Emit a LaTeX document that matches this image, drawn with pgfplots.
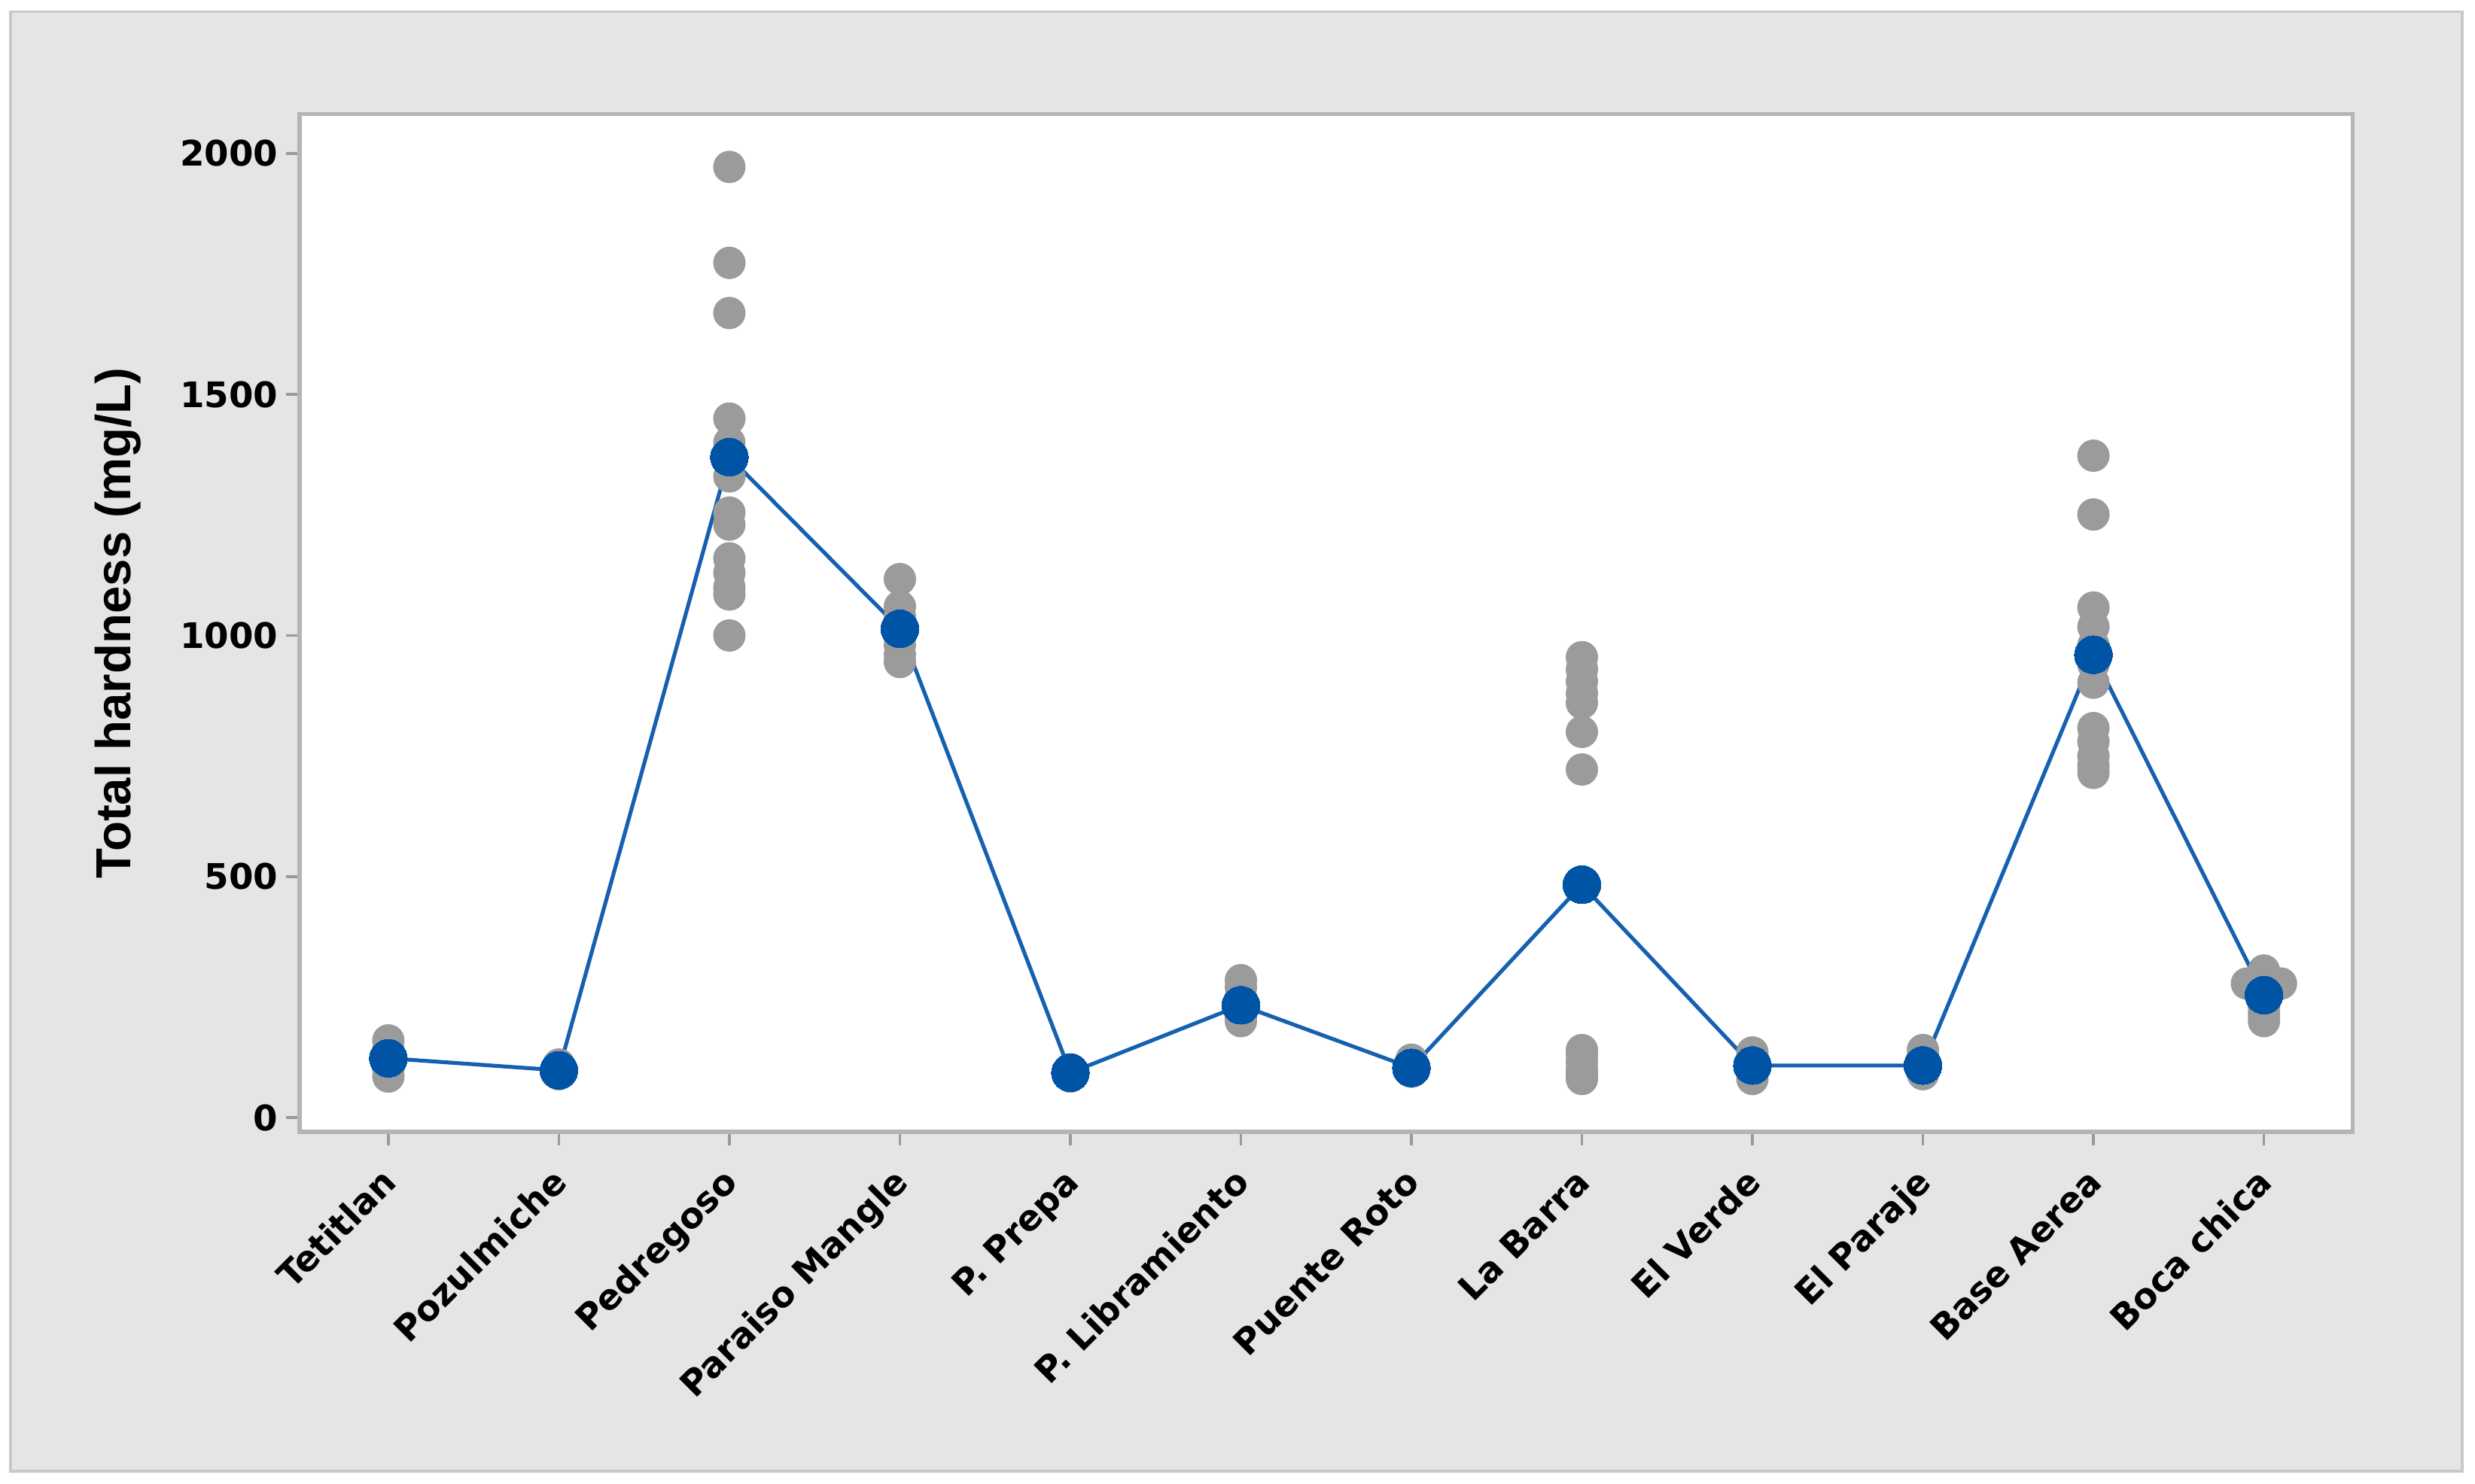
\documentclass[border=0pt]{standalone}
\usepackage{pgfplots}
\pgfplotsset{compat=1.18}
\usepackage{fontspec}
\setmainfont{DejaVu Sans}
\newfontfamily\labfont{Liberation Sans}
\definecolor{bgray}{HTML}{E5E5E5}
\definecolor{frameg}{HTML}{C8C8C8}
\definecolor{axg}{HTML}{B4B4B4}
\definecolor{tickg}{HTML}{9A9A9A}
\definecolor{dotg}{HTML}{9B9B9B}
\definecolor{meanb}{HTML}{0054A6}
\definecolor{lineb}{HTML}{1560B0}
\pgfplotstableread{
x y
0 160
0 140
0 120
0 100
0 85
1 110
1 105
1 100
1 95
1 90
2 1972
2 1773
2 1669
2 1450
2 1400
2 1370
2 1330
2 1255
2 1230
2 1160
2 1130
2 1100
2 1085
2 1000
3 1117
3 1060
3 1040
3 1010
3 980
3 960
3 945
4 100
4 95
4 90
4 85
5 285
5 270
5 250
5 230
5 215
5 205
5 200
6 120
6 115
6 110
6 100
6 95
7 955
7 930
7 905
7 880
7 860
7 800
7 722
7 140
7 130
7 115
7 100
7 90
7 85
7 80
8 135
8 120
8 110
8 95
8 80
9 140
9 125
9 110
9 95
9 90
10 1373
10 1251
10 1058
10 1018
10 980
10 940
10 902
10 808
10 780
10 750
10 730
10 715
11 305
10.9 278
11.1 278
11 260
11 230
11 215
11 200
}\grayt
\pgfplotstableread{
x y
0 123
1 98
2 1370
3 1014
4 93
5 233
6 103
7 483
8 108
9 108
10 960
11 254
}\meant
\begin{document}
\begin{tikzpicture}
\fill[white] (0,0) rectangle (703.6pt,421.8pt);
\draw[fill=bgray, draw=frameg, line width=0.8pt] (3pt,3.5pt) rectangle (700pt,418.5pt);
\begin{axis}[
  at={(85.2pt,99.9pt)}, anchor=south west,
  scale only axis, width=583.6pt, height=289.5pt,
  xmin=-0.52, xmax=11.52, ymin=-30, ymax=2082,
  xtick={0,...,11},
  xticklabels={Tetitlan,Pozulmiche,Pedregoso,Paraiso Mangle,P. Prepa,P. Libramiento,Puente Roto,La Barra,El Verde,El Paraje,Base Aerea,Boca chica},
  ytick={0,500,1000,1500,2000},
  xtick pos=bottom, ytick pos=left,
  tick align=outside, major tick length=3.8pt,
  tick style={color=tickg, line width=0.8pt},
  axis line style={draw=axg, line width=1.2pt},
  axis background/.style={fill=white},
  /pgf/number format/assume math mode=true,
  /pgf/number format/1000 sep={},
  ticklabel style={font=\bfseries\fontsize{10}{12}\selectfont},
  yticklabel style={inner sep=0pt, anchor=east, xshift=-2.2pt},
  xticklabel style={xshift=3pt, yshift=-11pt, rotate=45, anchor=base east, inner sep=0pt},
  ylabel={Total hardness (mg/L)},
  ylabel style={font=\labfont\bfseries\fontsize{14}{16}\selectfont, at={(axis description cs:-0.0884,0.5)}, anchor=center},
]
\addplot[only marks, color=dotg, mark=*, mark size=4.4pt, mark options={fill=dotg, draw=dotg}] table[x=x, y=y] {\grayt};
\addplot[color=lineb, line width=1.1pt, mark=*, mark size=5.4pt, mark options={fill=meanb, draw=meanb, line width=0pt}] table[x=x, y=y] {\meant};
\end{axis}
\end{tikzpicture}
\end{document}
